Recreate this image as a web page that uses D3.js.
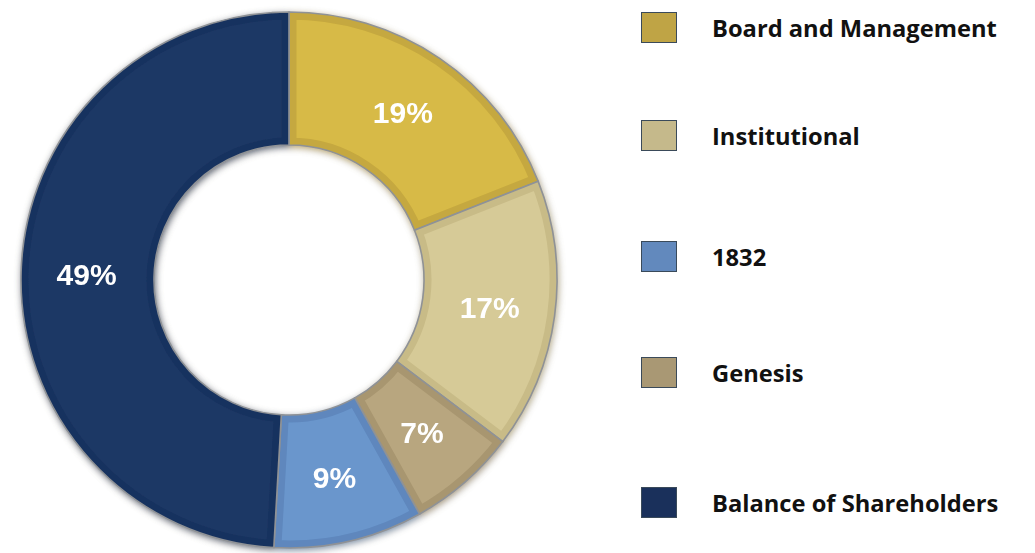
<!DOCTYPE html>
<html><head><meta charset="utf-8">
<script src="https://cdn.jsdelivr.net/npm/d3@7"></script>
<style>html,body{margin:0;padding:0;background:#fff;}svg{display:block;}</style>
</head><body>
<svg id="chart" width="1035" height="553"></svg>
<script>
// Slices in clockwise order starting at 12 o'clock
const categories = ["Board and Management", "Institutional", "Genesis", "1832", "Balance of Shareholders"];
const values = [19.0, 16.3, 6.6, 9.0, 49.1];
const labels = ["19%", "17%", "7%", "9%", "49%"];
const legendOrder = ["Board and Management", "Institutional", "1832", "Genesis", "Balance of Shareholders"];
const fillColors = ["#D7BA46", "#D6CA97", "#B8A67F", "#6A96CC", "#1C3765"];
const bandColors = ["#C5A83F", "#C8BB87", "#A89670", "#5E87BD", "#19335F"];
const legendColors = ["#BFA445", "#C5B98B", "#A99874", "#6289BD", "#1A305B"];

const svg = d3.select("#chart");
const cx = 289, cy = 280, rOuter = 268, rInner = 135;

const defs = svg.append("defs");
const f = defs.append("filter").attr("id", "shadow").attr("x", "-10%").attr("y", "-10%").attr("width", "120%").attr("height", "120%");
f.append("feGaussianBlur").attr("in", "SourceGraphic").attr("stdDeviation", 3.5).attr("result", "b");
f.append("feOffset").attr("in", "b").attr("dx", 1).attr("dy", 2).attr("result", "o");
const ct = f.append("feComponentTransfer").attr("in", "o").attr("result", "s");
ct.append("feFuncR").attr("type", "linear").attr("slope", 0.75);
ct.append("feFuncG").attr("type", "linear").attr("slope", 0.7);
ct.append("feFuncB").attr("type", "linear").attr("slope", 0.6);
ct.append("feFuncA").attr("type", "linear").attr("slope", 0.8);
const m = f.append("feMerge");
m.append("feMergeNode").attr("in", "s");
m.append("feMergeNode").attr("in", "SourceGraphic");

const pie = d3.pie().sort(null).value(d => d.v);
const data = pie(categories.map((c, i) => ({c, v: values[i], i})));
const arc = d3.arc().innerRadius(rInner).outerRadius(rOuter);

const g = svg.append("g").attr("transform", `translate(${cx},${cy})`);
const ring = g.append("g").attr("filter", "url(#shadow)");

data.forEach((d, k) => {
  defs.append("clipPath").attr("id", "clip" + k).append("path").attr("d", arc(d));
});

const slices = ring.selectAll("g.slice").data(data).join("g").attr("class", "slice");
slices.append("path")
  .attr("d", arc)
  .attr("fill", d => fillColors[d.data.i])
  .attr("stroke", d => bandColors[d.data.i])
  .attr("stroke-width", 15)
  .attr("clip-path", (d, k) => `url(#clip${k})`);
slices.append("path")
  .attr("d", arc)
  .attr("fill", "none")
  .attr("stroke", "#8F9296")
  .attr("stroke-width", 1.6);

const labelArc = d3.arc().innerRadius((rInner + rOuter) / 2 + 1).outerRadius((rInner + rOuter) / 2 + 1);
g.selectAll("text.lbl").data(data).join("text")
  .attr("class", "lbl")
  .attr("transform", d => `translate(${labelArc.centroid(d)})`)
  .attr("text-anchor", "middle")
  .attr("dominant-baseline", "central")
  .attr("fill", "#fff")
  .attr("font-family", "'Liberation Sans', Arial, sans-serif")
  .attr("font-weight", "bold")
  .attr("font-size", 30)
  .text(d => labels[d.data.i]);

// Legend
const legendTops = [12, 120, 241, 357, 487];
const leg = svg.append("g");
legendOrder.forEach((name, j) => {
  const i = categories.indexOf(name);
  const top = legendTops[j];
  leg.append("rect").attr("x", 641.5).attr("y", top + 0.5).attr("width", 35).attr("height", 30)
    .attr("fill", legendColors[i]).attr("stroke", "#3A4A5A").attr("stroke-width", 1);
  leg.append("text").attr("x", 712).attr("y", top + 16).attr("dominant-baseline", "central")
    .attr("font-family", "'Open Sans', sans-serif").attr("font-weight", "bold")
    .attr("font-size", 21).attr("fill", "#111").attr("class", "legtxt")
    .text(name);
});
// fit font size to the reference width of the first entry
const first = leg.select("text.legtxt").node();
const w = first.getComputedTextLength();
const fs = 21 * 285 / w;
leg.selectAll("text.legtxt").attr("font-size", fs);
</script>
</body></html>
